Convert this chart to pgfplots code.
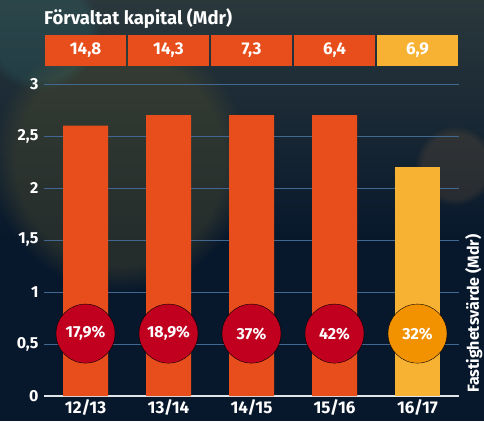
\documentclass[border=0pt]{standalone}
\usepackage{pgfplots}
\pgfplotsset{compat=1.18}
\usetikzlibrary{fadings}
\usepackage{fontspec}
\setmainfont{Fira Sans}
\definecolor{barred}{RGB}{232,78,27}
\definecolor{baryel}{RGB}{248,178,51}
\definecolor{circred}{RGB}{193,0,31}
\definecolor{circora}{RGB}{243,146,0}
\definecolor{gridc}{RGB}{64,104,145}
\definecolor{bgtop}{RGB}{42,56,60}
\definecolor{bgbot}{RGB}{8,24,44}
\definecolor{olive}{RGB}{80,78,45}
\begin{document}
\begin{tikzpicture}
\useasboundingbox (0,0) rectangle (484pt,421pt);
\fill[bgbot] (0,0) rectangle (484pt,421pt);
\shade[top color=bgtop, bottom color=bgbot] (0,180pt) rectangle (484pt,421pt);
\fill[olive, opacity=0.4, path fading=circle with fuzzy edge 20 percent] (120pt,260pt) circle (130pt);
\fill[teal!60!gray, opacity=0.2, path fading=circle with fuzzy edge 20 percent] (40pt,390pt) circle (60pt);
\fill[brown, opacity=0.15, path fading=circle with fuzzy edge 20 percent] (455pt,255pt) circle (40pt);

\begin{axis}[at={(44pt,25pt)}, anchor=south west, scale only axis,
  width=415pt, height=312pt,
  xmin=-0.5, xmax=4.5, ymin=0, ymax=3,
  ytick={0,0.5,1,1.5,2,2.5,3},
  xtick={0,1,2,3,4},
  xticklabels={12/13,13/14,14/15,15/16,16/17},
  axis x line*=bottom, axis y line*=left,
  y axis line style={draw=none},
  x axis line style={draw={rgb,255:red,225;green,228;blue,232}, line width=2pt, -},
  major tick length=0pt,
  ymajorgrids, grid style={gridc, line width=1pt},
  yticklabel style={white, font=\bfseries\fontsize{16}{16}\selectfont, xshift=-2pt},
  xticklabel style={white, font=\bfseries\fontsize{17}{17}\selectfont},
  /pgf/number format/use comma,
  /pgf/number format/assume math mode=true,
  clip=false]
\addplot[ybar, bar width=45pt, fill=barred, draw=none] coordinates {(0,2.6) (1,2.7) (2,2.7) (3,2.7)};
\addplot[ybar, bar width=45pt, fill=baryel, draw=none] coordinates {(4,2.2)};
\addplot[only marks, mark=*, mark size=29.5pt, mark options={fill=circred, draw=none},
  nodes near coords, point meta=explicit symbolic,
  every node near coord/.append style={anchor=center, text=white, font=\bfseries\fontsize{16}{16}\selectfont}]
  table[meta=lab]{
x y lab
0 0.6 17,9\%
1 0.6 18,9\%
2 0.6 37\%
3 0.6 42\%
};
\addplot[only marks, mark=*, mark size=29.5pt, mark options={fill=circora, draw=none},
  nodes near coords, point meta=explicit symbolic,
  every node near coord/.append style={anchor=center, text=white, font=\bfseries\fontsize{16}{16}\selectfont}]
  table[meta=lab]{
x y lab
4 0.6 32\%
};
\node[rotate=90, anchor=north west, inner sep=0pt, text=white, font=\bfseries\fontsize{16}{16}\selectfont]
  at ([xshift=6pt,yshift=3pt]rel axis cs:1,0) {Fastighetsvärde (Mdr)};
\end{axis}

\begin{axis}[at={(44pt,355pt)}, anchor=south west, scale only axis,
  width=415pt, height=31pt, xmin=-0.5, xmax=4.5, ymin=0, ymax=1,
  hide axis, clip=false]
\addplot[draw=none, mark=none, nodes near coords, point meta=explicit symbolic,
  every node near coord/.append style={anchor=center, fill=barred, minimum width=81pt, minimum height=31pt, inner sep=0pt, text=white, font=\bfseries\fontsize{17}{17}\selectfont}]
  table[meta=lab]{
x y lab
0 0.5 14,8
1 0.5 14,3
2 0.5 7,3
3 0.5 6,4
};
\addplot[draw=none, mark=none, nodes near coords, point meta=explicit symbolic,
  every node near coord/.append style={anchor=center, fill=baryel, minimum width=81pt, minimum height=31pt, inner sep=0pt, text=white, font=\bfseries\fontsize{17}{17}\selectfont}]
  table[meta=lab]{
x y lab
4 0.5 6,9
};
\node[anchor=base west, inner sep=0pt, text=white, font=\bfseries\fontsize{18.5}{18.5}\selectfont]
  at (rel axis cs:0,1) [yshift=10pt] {Förvaltat kapital (Mdr)};
\end{axis}
\end{tikzpicture}
\end{document}
